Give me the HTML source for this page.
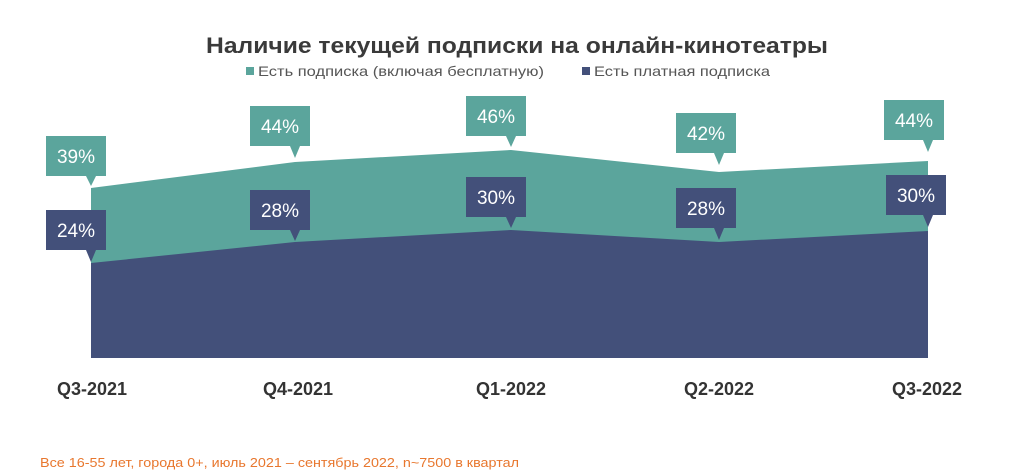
<!DOCTYPE html>
<html><head><meta charset="utf-8"><style>
html,body{margin:0;padding:0;background:#fff;width:1024px;height:471px;overflow:hidden}
svg text{font-family:"Liberation Sans","DejaVu Sans",sans-serif}
</style></head><body>
<svg width="1024" height="471" xmlns="http://www.w3.org/2000/svg">
<text x="517" y="53" text-anchor="middle" font-size="22" font-weight="bold" fill="#3a3a3a" textLength="622" lengthAdjust="spacingAndGlyphs">Наличие текущей подписки на онлайн-кинотеатры</text>
<rect x="246" y="67" width="8" height="8" fill="#5ba59c"/>
<text x="258" y="76" font-size="14" fill="#555" textLength="286" lengthAdjust="spacingAndGlyphs">Есть подписка (включая бесплатную)</text>
<rect x="582" y="67" width="8" height="8" fill="#43507a"/>
<text x="594" y="76" font-size="14" fill="#555" textLength="176" lengthAdjust="spacingAndGlyphs">Есть платная подписка</text>
<polygon points="91,188 295,162 511,150 719,172 928,161 928,358 91,358" fill="#5ba59c"/>
<polygon points="91,263 295,242 511,230 719,242 928,231 928,358 91,358" fill="#43507a"/>
<g font-size="19" fill="#fff" text-anchor="middle">
<polygon points="46,136 106,136 106,176 96,176 91,186 86,176 46,176" fill="#5ba59c"/><text x="76" y="163">39%</text>
<polygon points="250,106 310,106 310,146 300,146 295,158 290,146 250,146" fill="#5ba59c"/><text x="280" y="133">44%</text>
<polygon points="466,96 526,96 526,136 516,136 511,147 506,136 466,136" fill="#5ba59c"/><text x="496" y="123">46%</text>
<polygon points="676,113 736,113 736,153 724,153 719,165 714,153 676,153" fill="#5ba59c"/><text x="706" y="140">42%</text>
<polygon points="884,100 944,100 944,140 933,140 928,152 923,140 884,140" fill="#5ba59c"/><text x="914" y="127">44%</text>
<polygon points="46,210 106,210 106,250 96,250 91,262 86,250 46,250" fill="#43507a"/><text x="76" y="237">24%</text>
<polygon points="250,190 310,190 310,230 300,230 295,241 290,230 250,230" fill="#43507a"/><text x="280" y="217">28%</text>
<polygon points="466,177 526,177 526,217 516,217 511,228 506,217 466,217" fill="#43507a"/><text x="496" y="204">30%</text>
<polygon points="676,188 736,188 736,228 724,228 719,240 714,228 676,228" fill="#43507a"/><text x="706" y="215">28%</text>
<polygon points="886,175 946,175 946,215 933,215 928,227 923,215 886,215" fill="#43507a"/><text x="916" y="202">30%</text>
</g>
<g font-size="18" font-weight="bold" fill="#333" text-anchor="middle">
<text x="92" y="395">Q3-2021</text>
<text x="298" y="395">Q4-2021</text>
<text x="511" y="395">Q1-2022</text>
<text x="719" y="395">Q2-2022</text>
<text x="927" y="395">Q3-2022</text>
</g>
<text x="40" y="467" font-size="13" fill="#e8772e" textLength="479" lengthAdjust="spacingAndGlyphs">Все 16-55 лет, города 0+, июль 2021 – сентябрь 2022, n~7500 в квартал</text>
</svg>
</body></html>
